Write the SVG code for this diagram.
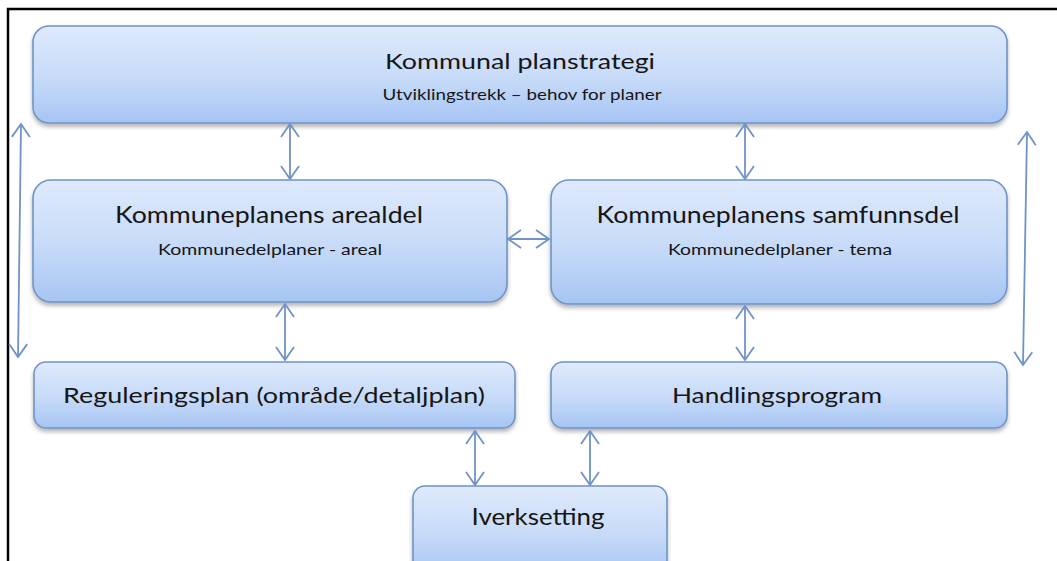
<svg xmlns="http://www.w3.org/2000/svg" width="1057" height="561" viewBox="0 0 1057 561">
<style>
.box{fill:url(#g);stroke:#6f93c8;stroke-width:1.6;filter:url(#sh)}
.t{font-family:Lato,"Open Sans","Liberation Sans",sans-serif;fill:#161616;text-anchor:middle}
.big{font-size:22px}
.sm{font-size:15px}
.c{stroke:#6f93c8;stroke-width:1.8;fill:none;marker-start:url(#ah);marker-end:url(#ah)}
</style>
<defs>
<linearGradient id="g" x1="0" y1="0" x2="0" y2="1">
<stop offset="0" stop-color="#dfeafc"/>
<stop offset="0.55" stop-color="#c6daf8"/>
<stop offset="1" stop-color="#a6c5f3"/>
</linearGradient>
<filter id="sh" x="-5%" y="-10%" width="110%" height="130%">
<feDropShadow dx="0" dy="3" stdDeviation="2" flood-color="#000" flood-opacity="0.3"/>
</filter>
<marker id="ah" viewBox="0 0 15 20" refX="14" refY="10" markerWidth="15" markerHeight="20" markerUnits="userSpaceOnUse" orient="auto-start-reverse">
<path d="M1,1 L14,10 L1,19" fill="none" stroke="#6f93c8" stroke-width="1.8"/>
</marker>
</defs>
<rect width="1057" height="561" fill="#fff"/>
<path d="M8,561 V9 H1057" fill="none" stroke="#000" stroke-width="2.5"/>
<g id="n-strategi">
<rect class="box" x="33" y="26" width="974" height="97" rx="16"/>
<text class="t" x="520" y="69" font-size="22" textLength="270" lengthAdjust="spacingAndGlyphs">Kommunal planstrategi</text>
<text class="t sm" x="522" y="100" textLength="279" lengthAdjust="spacingAndGlyphs">Utviklingstrekk – behov for planer</text>
</g>
<g id="n-arealdel">
<rect class="box" x="33" y="180" width="474" height="122" rx="18"/>
<text class="t" x="269" y="223" font-size="23" textLength="308" lengthAdjust="spacingAndGlyphs">Kommuneplanens  arealdel</text>
<text class="t sm" x="270" y="255" textLength="224" lengthAdjust="spacingAndGlyphs">Kommunedelplaner  - areal</text>
</g>
<g id="n-samfunnsdel">
<rect class="box" x="551" y="180" width="456" height="124" rx="18"/>
<text class="t" x="778" y="223" font-size="23" textLength="363" lengthAdjust="spacingAndGlyphs">Kommuneplanens  samfunnsdel</text>
<text class="t sm" x="780" y="255" textLength="224" lengthAdjust="spacingAndGlyphs">Kommunedelplaner  - tema</text>
</g>
<g id="n-regulering">
<rect class="box" x="34" y="362" width="481" height="66" rx="12"/>
<text class="t big" x="274" y="403" textLength="422" lengthAdjust="spacingAndGlyphs">Reguleringsplan (område/detaljplan)</text>
</g>
<g id="n-handling">
<rect class="box" x="551" y="362" width="456" height="66" rx="12"/>
<text class="t big" x="777" y="403" textLength="210" lengthAdjust="spacingAndGlyphs">Handlingsprogram</text>
</g>
<g id="n-iverksetting">
<rect class="box" x="413" y="486" width="254" height="90" rx="12"/>
<text class="t" x="538" y="525" font-size="24" textLength="133" lengthAdjust="spacingAndGlyphs">Iverksetting</text>
</g>
<g id="connectors">
<line class="c" x1="21" y1="124" x2="18" y2="357"/>
<line class="c" x1="1027" y1="132" x2="1023" y2="365"/>
<line class="c" x1="290" y1="124" x2="290" y2="179"/>
<line class="c" x1="745" y1="124" x2="745" y2="179"/>
<line class="c" x1="508" y1="239" x2="549" y2="239"/>
<line class="c" x1="285" y1="304" x2="285" y2="360"/>
<line class="c" x1="745" y1="306" x2="745" y2="360"/>
<line class="c" x1="475" y1="431" x2="475" y2="485"/>
<line class="c" x1="590" y1="431" x2="590" y2="485"/>
</g>
</svg>
